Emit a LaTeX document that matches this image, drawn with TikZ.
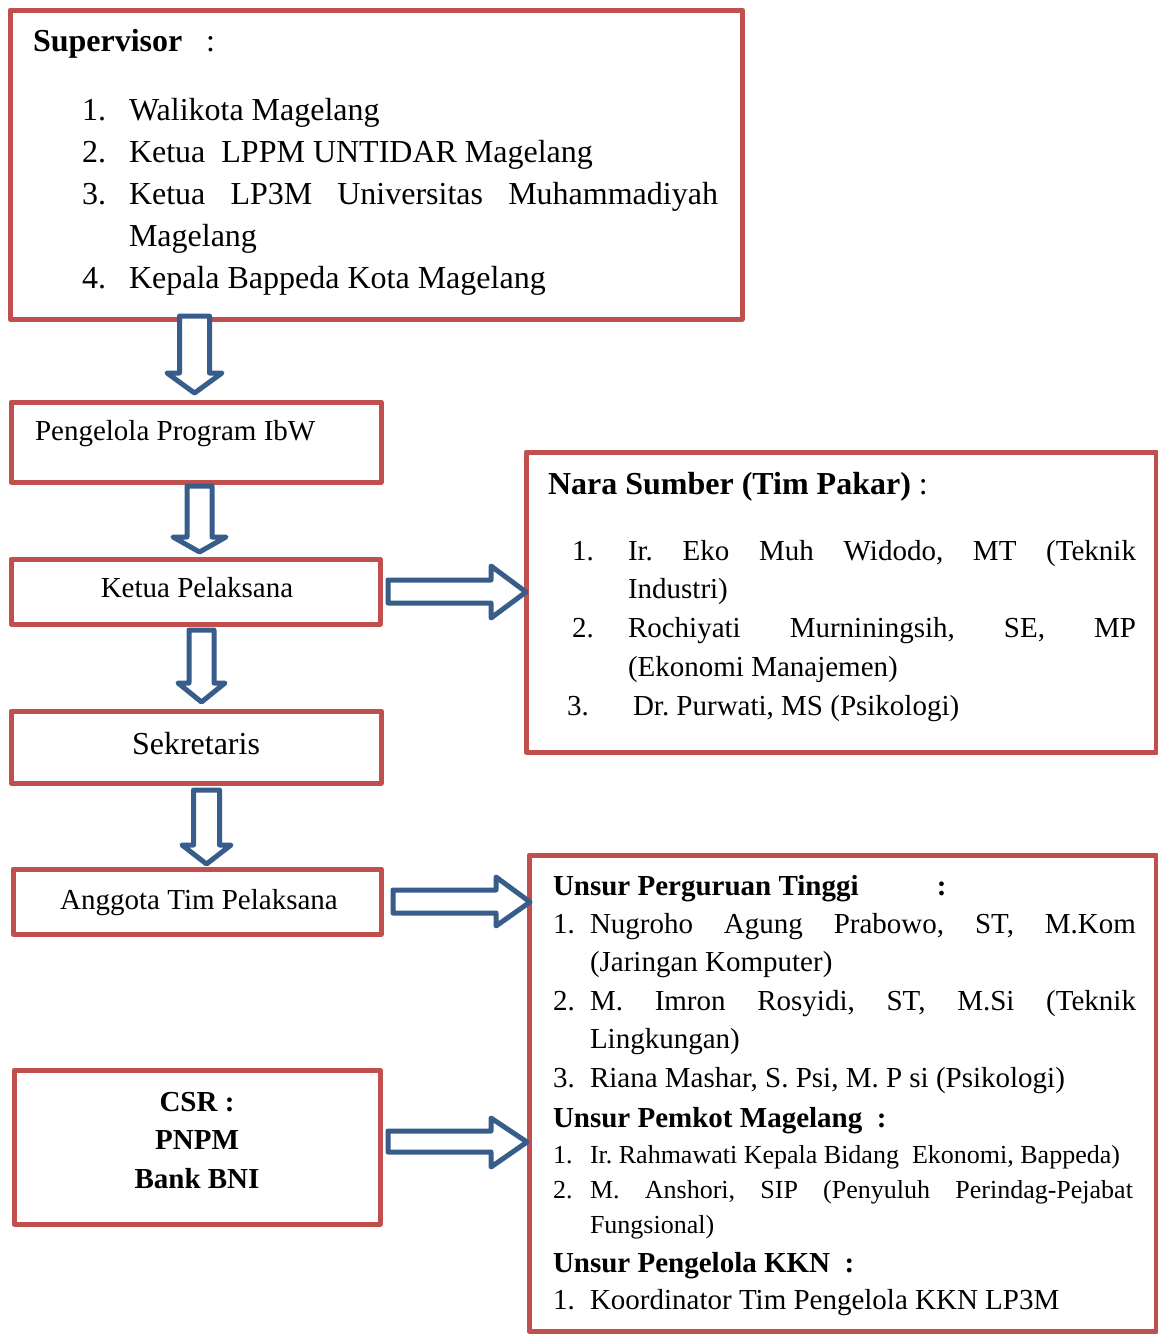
\documentclass[tikz,border=0pt]{standalone}
\usepackage{fontspec}
\setmainfont{Liberation Serif}
\definecolor{boxred}{HTML}{C0504D}
\definecolor{arrowblue}{HTML}{385D8A}
\newcommand\szA{\fontsize{32}{38}\selectfont}
\newcommand\szB{\fontsize{29}{35}\selectfont}
\newcommand\szC{\fontsize{26}{31}\selectfont}
\tikzset{
  redbox/.style={draw=boxred, line width=5pt, line join=round, fill=white, inner sep=0pt, outer sep=0pt},
  blkarrow/.style={draw=arrowblue, fill=white, line width=5pt, line join=round},
  txt/.style={anchor=base west, inner sep=0pt, outer sep=0pt},
  ctxt/.style={anchor=base, inner sep=0pt, outer sep=0pt},
}
\frenchspacing
\begin{document}
\begin{tikzpicture}[x=1pt,y=-1pt]
\useasboundingbox[fill=white] (0,0) rectangle (1158,1334);
% boxes
\node[redbox, minimum width=732pt, minimum height=309pt] (sup) at (376,164.5) {};
\node[redbox, minimum width=370pt, minimum height=80pt] (peng) at (196,442) {};
\node[redbox, minimum width=369pt, minimum height=65pt] (ketua) at (195.5,591.5) {};
\node[redbox, minimum width=370pt, minimum height=72pt] (sekr) at (196,747) {};
\node[redbox, minimum width=368pt, minimum height=65pt] (angg) at (197,901.5) {};
\node[redbox, minimum width=366pt, minimum height=154pt] (csr) at (197,1147) {};
\node[redbox, minimum width=630pt, minimum height=300pt] (nara) at (841,602) {};
\node[redbox, minimum width=627pt, minimum height=476pt] (unsur) at (842.5,1093) {};
% down arrows
\draw[blkarrow] (179.5,316) -- (209.5,316) -- (209.5,373) -- (222,373) -- (194.5,393) -- (167,373) -- (179.5,373) -- cycle;
\draw[blkarrow] (187,486) -- (212,486) -- (212,537) -- (226,537) -- (199.5,552) -- (173,537) -- (187,537) -- cycle;
\draw[blkarrow] (189,630) -- (214,630) -- (214,683) -- (225,683) -- (201.5,702) -- (178,683) -- (189,683) -- cycle;
\draw[blkarrow] (193.5,790) -- (219.5,790) -- (219.5,845) -- (231,845) -- (206.5,864) -- (182,845) -- (193.5,845) -- cycle;
% right arrows
\draw[blkarrow] (388,580) -- (491,580) -- (491,566) -- (526,592) -- (491,618) -- (491,603) -- (388,603) -- cycle;
\draw[blkarrow] (393,890) -- (496,890) -- (496,877) -- (530,902) -- (496,926) -- (496,913) -- (393,913) -- cycle;
\draw[blkarrow] (388,1131) -- (491,1131) -- (491,1118) -- (527,1142) -- (491,1167) -- (491,1152) -- (388,1152) -- cycle;
% supervisor text
\node[txt, font=\szA] (s0) at (33,51) {\makebox[173pt][l]{\textbf{Supervisor}}:};
\node[txt, font=\szA] (s1n) at (82,120) {1.};
\node[txt, font=\szA] (s1) at (129,120) {Walikota Magelang};
\node[txt, font=\szA] (s2n) at (82,162) {2.};
\node[txt, font=\szA] (s2) at (129,162) {Ketua\ \ LPPM UNTIDAR Magelang};
\node[txt, font=\szA] (s3n) at (82,204) {3.};
\node[txt, font=\szA] (s3) at (129,204) {\makebox[589pt][s]{Ketua LP3M Universitas Muhammadiyah}};
\node[txt, font=\szA] (s3b) at (129,246) {Magelang};
\node[txt, font=\szA] (s4n) at (82,288) {4.};
\node[txt, font=\szA] (s4) at (129,288) {Kepala Bappeda Kota Magelang};
% left column text
\node[txt, font=\szB] (pengt) at (35,440) {Pengelola Program IbW};
\node[ctxt, font=\szB] (ketuat) at (197,597) {Ketua Pelaksana};
\node[ctxt, font=\szA] (sekrt) at (196,754) {Sekretaris};
\node[ctxt, font=\szB] (anggt) at (199,909) {Anggota Tim Pelaksana};
\node[ctxt, font=\szB] (csr1) at (197,1111) {\textbf{CSR :}};
\node[ctxt, font=\szB] (csr2) at (197,1149) {\textbf{PNPM}};
\node[ctxt, font=\szB] (csr3) at (197,1188) {\textbf{Bank BNI}};
% nara sumber
\node[txt, font=\szA] (n0) at (548,494) {\textbf{Nara Sumber (Tim Pakar)} :};
\node[txt, font=\szB] (n1n) at (572,560) {1.};
\node[txt, font=\szB] (n1) at (628,560) {\makebox[508pt][s]{Ir. Eko Muh Widodo, MT (Teknik}};
\node[txt, font=\szB] (n1b) at (628,598) {Industri)};
\node[txt, font=\szB] (n2n) at (572,637) {2.};
\node[txt, font=\szB] (n2) at (628,637) {\makebox[508pt][s]{Rochiyati Murniningsih, SE, MP}};
\node[txt, font=\szB] (n2b) at (628,676) {(Ekonomi Manajemen)};
\node[txt, font=\szB] (n3n) at (567,715) {3.};
\node[txt, font=\szB] (n3) at (633,715) {Dr. Purwati, MS (Psikologi)};
% unsur
\node[txt, font=\szB] (u0) at (553,895) {\textbf{\makebox[384pt][l]{Unsur Perguruan Tinggi}:}};
\node[txt, font=\szB] (u1n) at (553,933) {1.};
\node[txt, font=\szB] (u1) at (590,933) {\makebox[546pt][s]{Nugroho Agung Prabowo, ST, M.Kom}};
\node[txt, font=\szB] (u1b) at (590,971) {(Jaringan Komputer)};
\node[txt, font=\szB] (u2n) at (553,1010) {2.};
\node[txt, font=\szB] (u2) at (590,1010) {\makebox[546pt][s]{M. Imron Rosyidi, ST, M.Si (Teknik}};
\node[txt, font=\szB] (u2b) at (590,1048) {Lingkungan)};
\node[txt, font=\szB] (u3n) at (553,1087) {3.};
\node[txt, font=\szB] (u3) at (590,1087) {Riana Mashar, S. Psi, M. P si (Psikologi)};
\node[txt, font=\szB] (p0) at (553,1127) {\textbf{Unsur Pemkot Magelang\ \ :}};
\node[txt, font=\szC] (p1n) at (553,1163) {1.};
\node[txt, font=\szC] (p1) at (590,1163) {Ir. Rahmawati Kepala Bidang\ \ Ekonomi, Bappeda)};
\node[txt, font=\szC] (p2n) at (553,1198) {2.};
\node[txt, font=\szC] (p2) at (590,1198) {\makebox[543pt][s]{M. Anshori, SIP (Penyuluh Perindag-Pejabat}};
\node[txt, font=\szC] (p2b) at (590,1233) {Fungsional)};
\node[txt, font=\szB] (k0) at (553,1272) {\textbf{Unsur Pengelola KKN\ \ :}};
\node[txt, font=\szB] (k1n) at (553,1309) {1.};
\node[txt, font=\szB] (k1) at (590,1309) {Koordinator Tim Pengelola KKN LP3M};
\end{tikzpicture}
\end{document}
